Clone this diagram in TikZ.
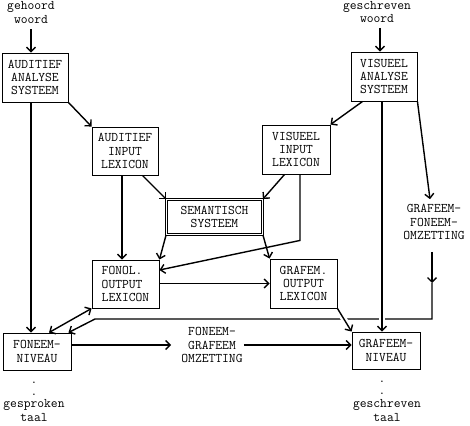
\documentclass[tikz,border=0pt]{standalone}
\usepackage{fontspec}
\usetikzlibrary{arrows.meta,calc}
\newcommand\lab{\ttfamily\fontsize{13.2}{13.4}\selectfont}
\begin{document}
\begin{tikzpicture}[x=1pt,y=-1pt,
  box/.style={draw, line width=0.9pt, align=center, inner sep=1pt, font=\lab, fill=white},
  txt/.style={align=center, inner sep=1pt, font=\lab},
  tip/.tip={Straight Barb[length=4.5pt,width=9pt]},
  arr/.style={line width=1.4pt, -tip},
  darr/.style={line width=1.4pt, tip-tip},
  halo/.style={preaction={draw=white, line width=6pt, shorten <=9pt, shorten >=9pt, -}}]
\useasboundingbox (0,0) rectangle (470,425);

% nodes
\node[txt] (gehoord) at (31,12.5) {gehoord\\woord};
\node[txt] (geschreven) at (377,12) {geschreven\\woord};
\node[box, minimum width=66pt, minimum height=49pt] (AAS) at (35,77.5) {AUDITIEF\\ANALYSE\\SYSTEEM};
\node[box, minimum width=66pt, minimum height=48pt] (AIL) at (125,151) {AUDITIEF\\INPUT\\LEXICON};
\node[box, minimum width=66pt, minimum height=49pt] (VAS) at (384,76.5) {VISUEEL\\ANALYSE\\SYSTEEM};
\node[box, minimum width=68pt, minimum height=49pt] (VIL) at (296,149.5) {VISUEEL\\INPUT\\LEXICON};
\node[box, double, line width=0.8pt, double distance=1.6pt, minimum width=96pt, minimum height=35pt] (SEM) at (214.5,217) {SEMANTISCH\\SYSTEEM};
\node[box, align=left, minimum width=67pt, minimum height=48pt] (FONOL) at (125.5,284) {FONOL.\\OUTPUT\\LEXICON};
\node[box, minimum width=67pt, minimum height=49pt] (GRAFEM) at (303.5,283.5) {GRAFEM.\\OUTPUT\\LEXICON};
\node[box, minimum width=68pt, minimum height=37pt] (FN) at (37,351.5) {FONEEM-\\NIVEAU};
\node[box, minimum width=68pt, minimum height=37pt] (GN) at (386,350.5) {GRAFEEM-\\NIVEAU};
\node[txt] (GFO) at (434,222) {GRAFEEM-\\FONEEM-\\OMZETTING};
\node[txt] (FGO) at (212,345) {FONEEM-\\GRAFEEM\\OMZETTING};
\node[txt, anchor=base] (d1) at (34,383) {.};
\node[txt, anchor=base] (d2) at (34,395) {.};
\node[txt] (gp) at (34,410.5) {gesproken\\taal};
\node[txt, anchor=base] (d3) at (382,382) {.};
\node[txt, anchor=base] (d4) at (382,394) {.};
\node[txt] (gt) at (387,410.5) {geschreven\\taal};

% helper coordinates
\coordinate (gx) at ($(VAS.north)+(-4,0)$);
\coordinate (vx) at ($(VAS.south)+(-2,0)$);
\coordinate (ax) at ($(AIL.south)+(-3,0)$);
\coordinate (vy) at ($(VIL.south)+(4,0)$);
\coordinate (c1) at (432,283);
\coordinate (c2) at (432,319);
\coordinate (c3) at (95,319);

% connectors
\draw[arr] ($(gehoord.south)+(0,5)$) -- (gehoord.south |- AAS.north);
\draw[arr] (gehoord.south |- AAS.south) -- (gehoord.south |- FN.north);
\draw[arr] (AAS.south east) -- (AIL.north west);
\draw[arr] ($(gx |- geschreven.south)+(0,4)$) -- (gx);
\draw[arr] ($(VAS.south west)+(12,0)$) -- (VIL.north east);
\draw[arr] (VAS.south east) -- ($(GFO.north)+(-4,-4)$);
\draw[arr] ($(GFO.south)+(-2,11)$) -- (c1);
\draw[arr] (c1) -- (c2) -- (c3) -- ($(FN.north east)+(-3,0)$);
\draw[arr, halo] (vx) -- (vx |- GN.north);
\draw[arr] (ax) -- (ax |- FONOL.north);
\draw[arr] ($(AIL.south east)+(-16,0)$) -- (SEM.north west);
\draw[arr] ($(VIL.south west)+(23,0)$) -- (SEM.north east);
\draw[arr] (vy) -- ++(0,66) -- ($(FONOL.east)+(0,-14)$);
\draw[arr] (SEM.south west) -- (FONOL.north east);
\draw[arr] (SEM.south east) -- (GRAFEM.north west);
\draw[arr] (FONOL.east |- GRAFEM.west) -- (GRAFEM.west);
\draw[arr, halo] (GRAFEM.south east) -- (GN.north west);
\draw[arr] (FN.east |- FGO.west) -- ($(FGO.west)+(-9,0)$);
\draw[arr] (FGO.east) -- (GN.west |- FGO.east);
\draw[darr] (FONOL.south west) -- ($(FN.north)+(12,0)$);
\end{tikzpicture}
\end{document}
